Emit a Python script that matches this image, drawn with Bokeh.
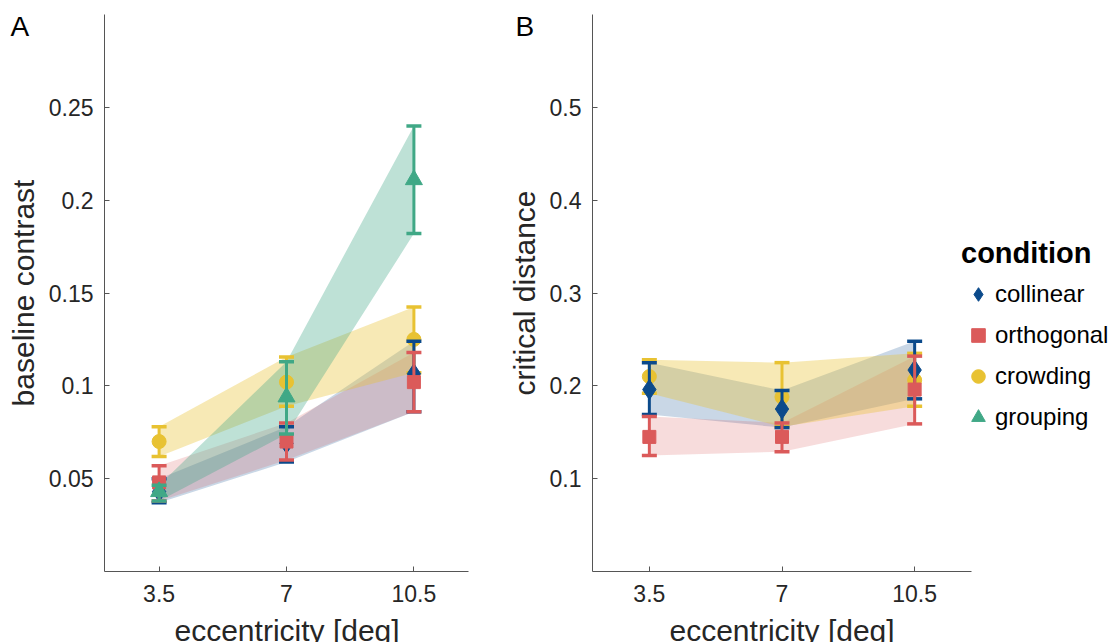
import numpy as np
from bokeh.plotting import figure
from bokeh.layouts import row
from bokeh.models import Range1d, FixedTicker, Legend, LegendItem, Title
from bokeh.embed import file_html
from bokeh.resources import INLINE

# ---------------- data ----------------
conditions = ["collinear", "orthogonal", "crowding", "grouping"]
eccentricity = [3.5, 7, 10.5]
x_ticks = [3.5, 7, 10.5]
x_tick_labels = ["3.5", "7", "10.5"]
x_title = "eccentricity [deg]"

# Panel A: baseline contrast (mean, lower, upper)
a_collinear = [0.043, 0.069, 0.1065]
a_collinear_lo = [0.037, 0.059, 0.086]
a_collinear_hi = [0.050, 0.078, 0.124]
a_orthogonal = [0.048, 0.070, 0.102]
a_orthogonal_lo = [0.038, 0.060, 0.086]
a_orthogonal_hi = [0.057, 0.080, 0.118]
a_crowding = [0.070, 0.102, 0.125]
a_crowding_lo = [0.062, 0.089, 0.107]
a_crowding_hi = [0.078, 0.1155, 0.1425]
a_grouping = [0.043, 0.094, 0.211]
a_grouping_lo = [0.038, 0.074, 0.182]
a_grouping_hi = [0.0465, 0.113, 0.240]
a_y_ticks = [0.05, 0.1, 0.15, 0.2, 0.25]
a_y_tick_labels = ["0.05", "0.1", "0.15", "0.2", "0.25"]

# Panel B: critical distance (mean, lower, upper); no grouping data
b_collinear = [0.196, 0.175, 0.217]
b_collinear_lo = [0.169, 0.155, 0.186]
b_collinear_hi = [0.225, 0.195, 0.248]
b_orthogonal = [0.145, 0.145, 0.196]
b_orthogonal_lo = [0.125, 0.129, 0.159]
b_orthogonal_hi = [0.167, 0.160, 0.232]
b_crowding = [0.210, 0.188, 0.206]
b_crowding_lo = [0.192, 0.156, 0.178]
b_crowding_hi = [0.228, 0.225, 0.235]
b_y_ticks = [0.1, 0.2, 0.3, 0.4, 0.5]
b_y_tick_labels = ["0.1", "0.2", "0.3", "0.4", "0.5"]

# ---------------- styles ----------------
COLORS = {"collinear": "#0b4a8b", "orthogonal": "#db5a5a",
          "crowding": "#e8c232", "grouping": "#40a886"}
BAND_ALPHA = {"collinear": 0.22, "orthogonal": 0.21, "crowding": 0.36, "grouping": 0.34}
MARKERS = {"collinear": ("diamond", 20), "orthogonal": ("square", 13),
           "crowding": ("circle", 14), "grouping": ("triangle", 17)}
FONT = "Liberation Sans"
TEXT = "#262626"


def make_panel(width, left, right, x_end, y_range, y_ticks, y_labels, y_title, series,
               letter, letter_dx, title_dx):
    p = figure(width=width, height=642, output_backend="svg", toolbar_location=None,
               x_range=Range1d(2, x_end), y_range=Range1d(*y_range),
               min_border_left=left, min_border_right=right,
               min_border_top=14, min_border_bottom=69)
    p.outline_line_color = None
    p.xgrid.visible = False
    p.ygrid.visible = False

    p.xaxis.ticker = FixedTicker(ticks=x_ticks)
    p.xaxis.major_label_overrides = dict(zip(x_ticks, x_tick_labels))
    p.xaxis.bounds = (2, 12)
    p.yaxis.ticker = FixedTicker(ticks=y_ticks)
    p.yaxis.major_label_overrides = dict(zip(y_ticks, y_labels))
    p.yaxis.axis_label = y_title
    for ax in (p.xaxis[0], p.yaxis[0]):
        ax.axis_line_color = "#555555"
        ax.axis_line_width = 1
        ax.major_tick_line_color = "#555555"
        ax.major_tick_in = 5
        ax.major_tick_out = 0
        ax.minor_tick_line_color = None
        ax.major_label_text_font = FONT
        ax.major_label_text_font_size = "23px"
        ax.major_label_text_color = TEXT
        ax.axis_label_text_font = FONT
        ax.axis_label_text_font_size = "30px"
        ax.axis_label_text_font_style = "normal"
        ax.axis_label_text_color = TEXT
    p.xaxis.major_label_standoff = 13
    p.yaxis.major_label_standoff = 11
    p.yaxis.axis_label_standoff = 6
    # blank spacer label so the x title below sits at the reference height
    p.xaxis.axis_label = " "
    p.xaxis.axis_label_text_font_size = "10px"
    p.xaxis.axis_label_standoff = 1
    # x title, placed under the bounded axis span
    p.add_layout(Title(text=x_title, align="left", offset=title_dx, standoff=-12,
                       vertical_align="top", text_font=FONT, text_font_size="30px",
                       text_font_style="normal", text_color=TEXT), "below")

    # panel letter
    p.add_layout(Title(text=letter, align="left", offset=letter_dx, standoff=-54,
                       vertical_align="bottom", text_font=FONT, text_font_size="28px",
                       text_font_style="normal", text_color="black"), "above")

    # bands
    for name, (m, lo, hi) in series:
        p.varea(x=eccentricity, y1=lo, y2=hi, fill_color=COLORS[name],
                fill_alpha=BAND_ALPHA[name])
    # error bars + markers
    renderers = {}
    draw_order = ["crowding", "collinear", "orthogonal", "grouping"]
    sd = dict(series)
    for name in draw_order:
        if name not in sd:
            continue
        m, lo, hi = sd[name]
        c = COLORS[name]
        p.segment(x0=eccentricity, y0=lo, x1=eccentricity, y1=hi, line_color=c, line_width=3)
        p.scatter(x=eccentricity, y=lo, marker="dash", size=15, line_color=c, line_width=3.5)
        p.scatter(x=eccentricity, y=hi, marker="dash", size=15, line_color=c, line_width=3.5)
        mk, sz = MARKERS[name]
        renderers[name] = p.scatter(x=eccentricity, y=m, marker=mk, size=sz,
                                    fill_color=c, line_color=c)
    return p, renderers


pA, rA = make_panel(480, 104, 12, 12, (0, 0.3), a_y_ticks, a_y_tick_labels, "baseline contrast",
                    [("collinear", (a_collinear, a_collinear_lo, a_collinear_hi)),
                     ("orthogonal", (a_orthogonal, a_orthogonal_lo, a_orthogonal_hi)),
                     ("crowding", (a_crowding, a_crowding_lo, a_crowding_hi)),
                     ("grouping", (a_grouping, a_grouping_lo, a_grouping_hi))], "A", -94, 70)

# panel B's frame runs to the right edge so the legend can sit inside it;
# the x axis line is bounded to 2..12
pB, rB = make_panel(634, 112, 0, 2 + 10 * 522 / 379, (0, 0.6), b_y_ticks, b_y_tick_labels,
                    "critical distance",
                    [("collinear", (b_collinear, b_collinear_lo, b_collinear_hi)),
                     ("orthogonal", (b_orthogonal, b_orthogonal_lo, b_orthogonal_hi)),
                     ("crowding", (b_crowding, b_crowding_lo, b_crowding_hi))], "B", -77, 77)

# legend-only renderer for grouping in panel B (no data there, NaN is not drawn)
mk, sz = MARKERS["grouping"]
rB["grouping"] = pB.scatter(x=np.array([np.nan]), y=np.array([np.nan]), marker=mk, size=sz,
                            fill_color=COLORS["grouping"], line_color=COLORS["grouping"])

legend = Legend(items=[LegendItem(label=n, renderers=[rB[n]]) for n in conditions],
                location=(369, 137), title="condition",
                title_text_font=FONT, title_text_font_size="29px", title_text_font_style="bold",
                title_text_color="black", title_standoff=7,
                label_text_font=FONT, label_text_font_size="24px", label_text_color="black",
                glyph_width=34, glyph_height=34, label_standoff=0, spacing=7,
                padding=0, margin=0, border_line_color=None, background_fill_alpha=0)
pB.add_layout(legend, "center")

layout = row(pA, pB)
open("out.html", "w").write(file_html(layout, INLINE))
